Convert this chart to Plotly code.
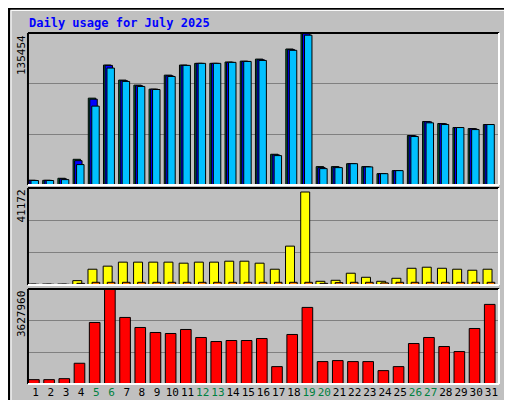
import plotly.graph_objects as go

days = list(range(1, 32))
weekend = {5, 6, 12, 13, 19, 20, 26, 27}
hits = [4170, 4170, 6000, 22900, 77400, 106900, 93500, 89000, 85400, 97900, 106900, 108400, 108400, 109600, 110400, 112200, 27400, 121200, 135454, 16400, 16400, 19000, 16400, 10100, 12800, 44100, 56600, 54800, 51200, 50300, 53900]
files = [4170, 4170, 5400, 21700, 76500, 106600, 92900, 88400, 85400, 97300, 106600, 108400, 108400, 109300, 110100, 111600, 26800, 120600, 134900, 15500, 15800, 19000, 16100, 10100, 12800, 43800, 56300, 54500, 51200, 50000, 53900]
pages = [4000, 4000, 4800, 18200, 70300, 104200, 92300, 87800, 85100, 96700, 106600, 108400, 108400, 109300, 110100, 111000, 26200, 120000, 133500, 14600, 15500, 19000, 16100, 10100, 12800, 43200, 55400, 53900, 51200, 49400, 53900]
visits = [400, 400, 400, 1850, 6700, 8000, 9700, 9700, 9700, 9700, 9260, 9700, 9700, 10100, 10100, 9260, 6700, 16500, 39470, 1570, 2000, 5000, 3280, 1570, 2850, 7100, 7550, 7100, 6700, 6270, 6700]
sites = [300, 300, 300, 700, 1140, 1140, 1140, 1140, 1140, 1140, 1140, 1140, 1140, 1140, 1140, 1140, 1140, 1140, 1140, 700, 1000, 1140, 1140, 900, 1140, 1140, 1140, 1140, 1140, 1140, 1140]
kbytes = [166000, 166000, 204000, 792000, 2350000, 3627960, 2542000, 2159000, 1967000, 1929000, 2082000, 1776000, 1622000, 1661000, 1661000, 1737000, 664000, 1891000, 2925000, 856000, 894000, 856000, 856000, 511000, 664000, 1546000, 1776000, 1431000, 1239000, 2120000, 3040000]
max_top, max_mid, max_bot = 135454, 41172, 3627960

FONT = "DejaVu Sans Mono"
fig = go.Figure()
line = dict(color="black", width=1)
def bar(y, color, off, w, ax):
    fig.add_trace(go.Bar(x=days, y=y, marker=dict(color=color, line=line), offset=off, width=w,
                         yaxis=ax, xaxis="x", hoverinfo="skip"))
bar(hits, "#008040", -0.53, 0.49, "y")
bar(files, "#0000FF", -0.43, 0.49, "y")
bar(pages, "#00C0FF", -0.30, 0.49, "y")
bar(visits, "#FFFF00", -0.55, 0.59, "y2")
bar(sites, "#FF8000", -0.28, 0.5, "y2")
bar(kbytes, "#FF0000", -0.46, 0.7, "y3")

ticktext = [f'<span style="color:{"#008040" if d in weekend else "black"}">{d}</span>' for d in days]
def yax(dom, m):
    return dict(domain=dom, range=[0, m], tickvals=[m/3, 2*m/3], showticklabels=False, automargin=False,
                showgrid=True, gridcolor="#808080", gridwidth=1, zeroline=False, fixedrange=True)
fig.update_layout(
    width=512, height=400, margin=dict(l=0, r=0, t=0, b=0, autoexpand=False),
    paper_bgcolor="#C0C0C0", plot_bgcolor="#C0C0C0", showlegend=False, barmode="overlay",
    xaxis=dict(domain=[0.039, 0.959], range=[0.5, 31.5], anchor="y3", tickvals=days, ticktext=ticktext,
               tickangle=0, automargin=False, ticklen=0,
               showgrid=False, zeroline=False, ticks="", tickfont=dict(family=FONT, size=11, color="black")),
    yaxis=yax([0.5575, 0.9375], max_top),
    yaxis2=yax([0.3075, 0.55], max_mid),
    yaxis3=yax([0.06, 0.2975], max_bot),
    font=dict(family=FONT),
)
shapes = [
    dict(type="rect", xref="paper", yref="paper", x0=0.002, y0=0.002, x1=0.998, y1=0.998, line=dict(color="black", width=2)),
    dict(type="line", xref="paper", yref="paper", x0=0.006, y0=0.994, x1=0.994, y1=0.994, line=dict(color="white", width=1)),
    dict(type="line", xref="paper", yref="paper", x0=0.006, y0=0.006, x1=0.006, y1=0.994, line=dict(color="white", width=1)),
    dict(type="line", xref="paper", yref="paper", x0=0.006, y0=0.006, x1=0.994, y1=0.006, line=dict(color="#808080", width=2)),
    dict(type="line", xref="paper", yref="paper", x0=0.994, y0=0.006, x1=0.994, y1=0.994, line=dict(color="#808080", width=2)),
]
for y0, y1 in [(0.5575, 0.9375), (0.3075, 0.55), (0.06, 0.2975)]:
    x0, x1 = 0.039, 0.959
    shapes += [
        dict(type="line", xref="paper", yref="paper", x0=x0, y0=y1, x1=x1, y1=y1, line=dict(color="black", width=2)),
        dict(type="line", xref="paper", yref="paper", x0=x0, y0=y0, x1=x0, y1=y1, line=dict(color="black", width=2)),
        dict(type="line", xref="paper", yref="paper", x0=x0, y0=y0, x1=x1, y1=y0, line=dict(color="white", width=2)),
        dict(type="line", xref="paper", yref="paper", x0=x1, y0=y0, x1=x1, y1=y1, line=dict(color="white", width=2)),
    ]
fig.update_layout(shapes=shapes)
ann = [
    dict(text="<b>Daily usage for July 2025</b>", x=0.037, y=1 - 15/400, xanchor="left", yanchor="middle",
         font=dict(color="#0000FF", size=12)),
    dict(text="135454", x=13/512, y=0.9375, yanchor="top", textangle=-90, font=dict(size=11, color="black")),
    dict(text="41172", x=13/512, y=0.55, yanchor="top", textangle=-90, font=dict(size=11, color="black")),
    dict(text="3627960", x=13/512, y=0.2975, yanchor="top", textangle=-90, font=dict(size=11, color="black")),
    dict(text='<span style="color:#00C0FF">Pages</span> / <span style="color:#0000FF">Files</span> / <span style="color:#008040">Hits</span>',
         x=502/512, y=0.9375, yanchor="top", textangle=-90, font=dict(size=11, color="black")),
    dict(text='<span style="color:#FF8000">Sites</span> / <span style="color:#FFFF00">Visits</span>',
         x=502/512, y=0.55, yanchor="top", textangle=-90, font=dict(size=11, color="black")),
    dict(text='<span style="color:#FF0000">KBytes</span>',
         x=502/512, y=0.06, yanchor="bottom", textangle=-90, font=dict(size=11, color="black")),
]
for a in ann:
    a.update(xref="paper", yref="paper", showarrow=False)
    a.setdefault("xanchor", "center")
fig.update_layout(annotations=ann)
fig.write_html("out.html")
